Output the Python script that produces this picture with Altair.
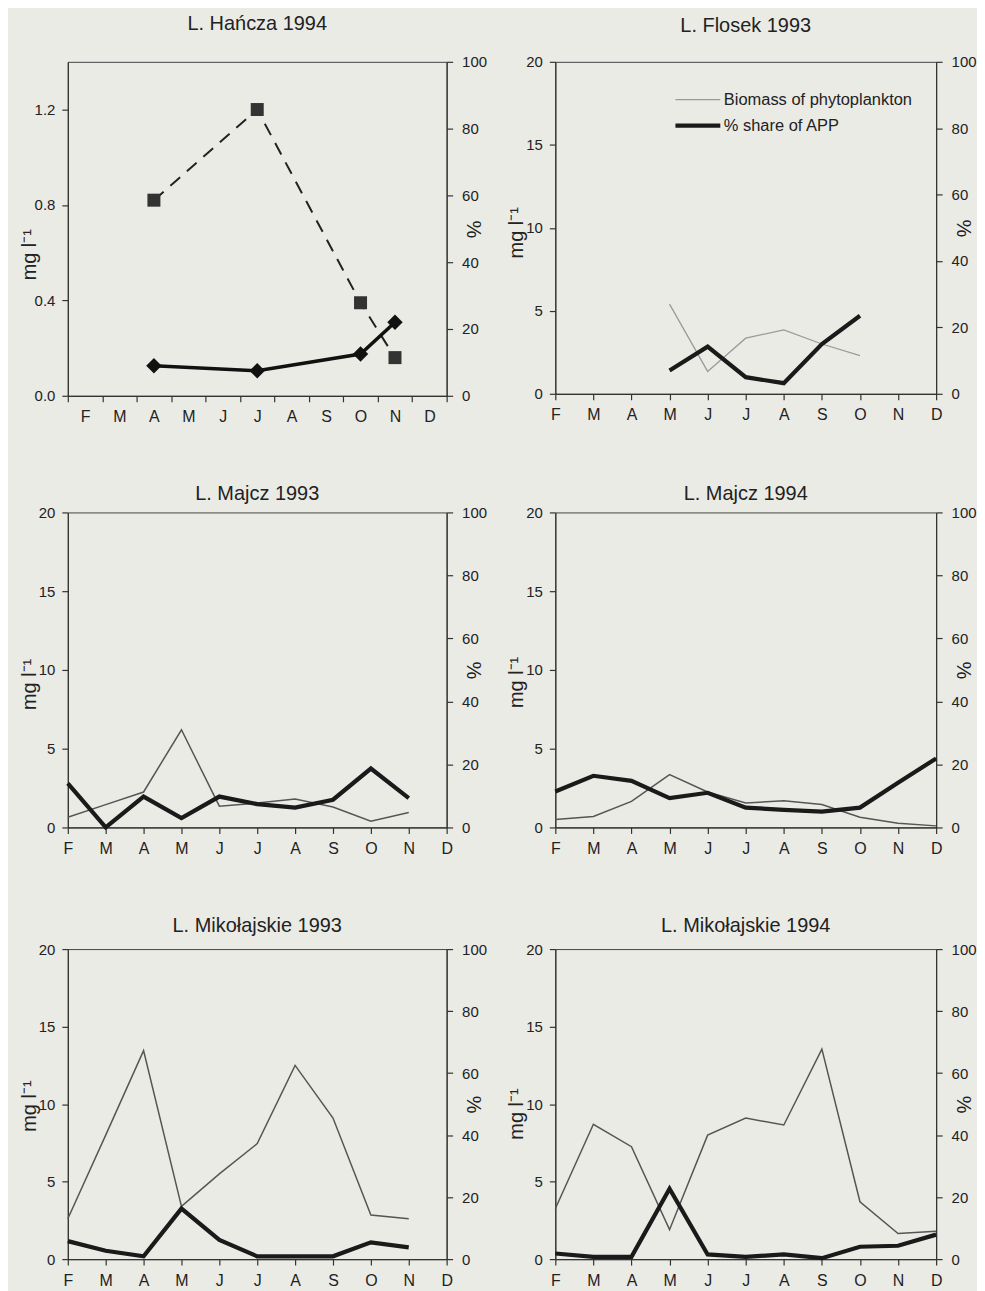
import altair as alt
import pandas as pd

# ---------------- data ----------------
months = ["Feb", "Mar", "Apr", "May", "Jun", "Jul", "Aug", "Sep", "Oct", "Nov", "Dec"]

hancza_biomass = [None, None, 0.82, None, None, 1.20, None, None, 0.39, 0.16, None]
hancza_app = [None, None, 9.0, None, None, 7.5, None, None, 12.5, 22.0, None]

flosek_biomass = [None, None, None, 5.4, 1.35, 3.35, 3.85, 3.0, 2.3, None, None]
flosek_app = [None, None, None, 7.0, 14.2, 5.0, 3.2, 15.0, 23.5, None, None]

majcz93_biomass = [0.65, 1.45, 2.25, 6.2, 1.35, 1.55, 1.8, 1.3, 0.4, 0.95, None]
majcz93_app = [14.0, 0.0, 9.8, 3.0, 9.8, 7.4, 6.3, 8.8, 18.7, 9.3, None]

majcz94_biomass = [0.5, 0.7, 1.65, 3.35, 2.25, 1.55, 1.7, 1.45, 0.65, 0.27, 0.1]
majcz94_app = [11.4, 16.4, 14.8, 9.3, 11.0, 6.3, 5.6, 5.0, 6.3, 14.2, 21.9]

mik93_biomass = [2.6, 8.0, 13.45, 3.4, 5.5, 7.45, 12.5, 9.1, 2.85, 2.6, None]
mik93_app = [5.8, 2.7, 0.9, 16.3, 6.2, 0.9, 0.9, 0.9, 5.4, 3.8, None]

mik94_biomass = [3.25, 8.7, 7.25, 1.9, 8.0, 9.1, 8.65, 13.55, 3.7, 1.65, 1.8]
mik94_app = [1.8, 0.75, 0.75, 22.7, 1.5, 0.75, 1.5, 0.3, 4.0, 4.3, 7.9]

series_names = ["Biomass of phytoplankton", "% share of APP"]

FONT = "Liberation Sans"
BG = "#ebebe6"


def panel(title, biomass, app, width, height, title_offset, ytitle_pos,
          thin_color="#555555", legend=False, hancza=False):
    df = pd.DataFrame({"month": months, "biomass": biomass, "app": app})
    db = df.dropna(subset=["biomass"]).copy()
    da = df.dropna(subset=["app"]).copy()
    db["series"] = series_names[0]
    da["series"] = series_names[1]

    if hancza:
        xscale = alt.Scale(type="band", domain=months, paddingInner=0, paddingOuter=0)
        xaxis = alt.Axis(title=None, labelExpr="substring(datum.label, 0, 1)",
                         labelAngle=0, tickBand="extent", labelPadding=7,
                         labelFontSize=16)
        lscale = alt.Scale(domain=[0, 1.4], nice=False)
        laxis = alt.Axis(title="mg l⁻¹", orient="left", values=[0, 0.4, 0.8, 1.2],
                         format=".1f", titlePadding=-5, titleY=ytitle_pos)
    else:
        xscale = alt.Scale(type="point", domain=months, padding=0)
        xaxis = alt.Axis(title=None, labelExpr="substring(datum.label, 0, 1)",
                         labelAngle=0, labelPadding=7, labelFontSize=16)
        lscale = alt.Scale(domain=[0, 20], nice=False)
        laxis = alt.Axis(title="mg l⁻¹", orient="left", values=[0, 5, 10, 15, 20],
                         titlePadding=-1, titleY=ytitle_pos)
    rscale = alt.Scale(domain=[0, 100], nice=False)
    raxis = alt.Axis(title="%", orient="right", values=[0, 20, 40, 60, 80, 100],
                     titlePadding=-24, labelPadding=9)

    x = alt.X("month:O", scale=xscale, axis=xaxis, sort=months)

    if hancza:
        thin = alt.Chart(db).mark_line(
            color="#222", strokeWidth=2, strokeDash=[13, 9],
            point=alt.OverlayMarkDef(shape="square", size=170, filled=True,
                                     color="#333", opacity=1),
        ).encode(x=x, y=alt.Y("biomass:Q", scale=lscale, axis=laxis))
        thick = alt.Chart(da).mark_line(
            color="#111", strokeWidth=3.5,
            point=alt.OverlayMarkDef(shape="diamond", size=240, filled=True,
                                     color="#111", opacity=1),
        ).encode(x=x, y=alt.Y("app:Q", scale=rscale, axis=raxis))
    elif legend:
        cscale = alt.Scale(domain=series_names, range=[thin_color, "#1a1a1a"])
        wscale = alt.Scale(domain=series_names, range=[1.3, 4.2])
        leg = alt.Legend(title=None, orient="none", legendX=118, legendY=30,
                         symbolType="stroke", symbolSize=2025, labelFontSize=16.5,
                         labelFont=FONT, labelColor="#222", labelOffset=1,
                         labelLimit=0, rowPadding=9, clipHeight=16)
        thin = alt.Chart(db).mark_line().encode(
            x=x, y=alt.Y("biomass:Q", scale=lscale, axis=laxis),
            color=alt.Color("series:N", scale=cscale, legend=leg, sort=series_names),
            strokeWidth=alt.StrokeWidth("series:N", scale=wscale, legend=leg,
                                        sort=series_names),
        )
        thick = alt.Chart(da).mark_line().encode(
            x=x, y=alt.Y("app:Q", scale=rscale, axis=raxis),
            color=alt.Color("series:N", scale=cscale, legend=leg, sort=series_names),
            strokeWidth=alt.StrokeWidth("series:N", scale=wscale, legend=leg,
                                        sort=series_names),
        )
    else:
        thin = alt.Chart(db).mark_line(color=thin_color, strokeWidth=1.5).encode(
            x=x, y=alt.Y("biomass:Q", scale=lscale, axis=laxis))
        thick = alt.Chart(da).mark_line(color="#1a1a1a", strokeWidth=4.2).encode(
            x=x, y=alt.Y("app:Q", scale=rscale, axis=raxis))

    return alt.layer(thin, thick).resolve_scale(y="independent").properties(
        width=width, height=height,
        title=alt.TitleParams(title, fontSize=20, fontWeight="normal", font=FONT,
                              color="#222", anchor="middle", offset=title_offset),
    )


p1 = panel("L. Hańcza 1994", hancza_biomass, hancza_app, 380, 335, 21, 193, hancza=True)
p2 = panel("L. Flosek 1993", flosek_biomass, flosek_app, 382, 333, 19, 171,
           thin_color="#9a9a9a", legend=True)
p3 = panel("L. Majcz 1993", majcz93_biomass, majcz93_app, 380, 316, 1, 172)
p4 = panel("L. Majcz 1994", majcz94_biomass, majcz94_app, 382, 316, 1, 170)
p5 = panel("L. Mikołajskie 1993", mik93_biomass, mik93_app, 380, 311, 6, 157)
p6 = panel("L. Mikołajskie 1994", mik94_biomass, mik94_app, 382, 311, 6, 165)

chart = alt.concat(
    p1, p2, p3, p4, p5, p6, columns=2, align="each",
    spacing={"row": 58, "column": 18},
).resolve_scale(color="independent", strokeWidth="independent").properties(
    padding={"left": 10, "top": 3, "right": 0, "bottom": 0},
).configure(
    background=BG, font=FONT,
).configure_view(
    stroke="#444", strokeWidth=1, fill=BG,
).configure_axis(
    grid=False, domainColor="#333", tickColor="#333", labelColor="#222",
    titleColor="#222", labelFontSize=15, titleFontSize=20, titleFontWeight="normal",
    tickSize=6, domainWidth=1.2, tickWidth=1.2, labelFont=FONT, titleFont=FONT,
    labelPadding=7,
)

chart.save("out.html", embed_options={"renderer": "svg", "actions": False})
